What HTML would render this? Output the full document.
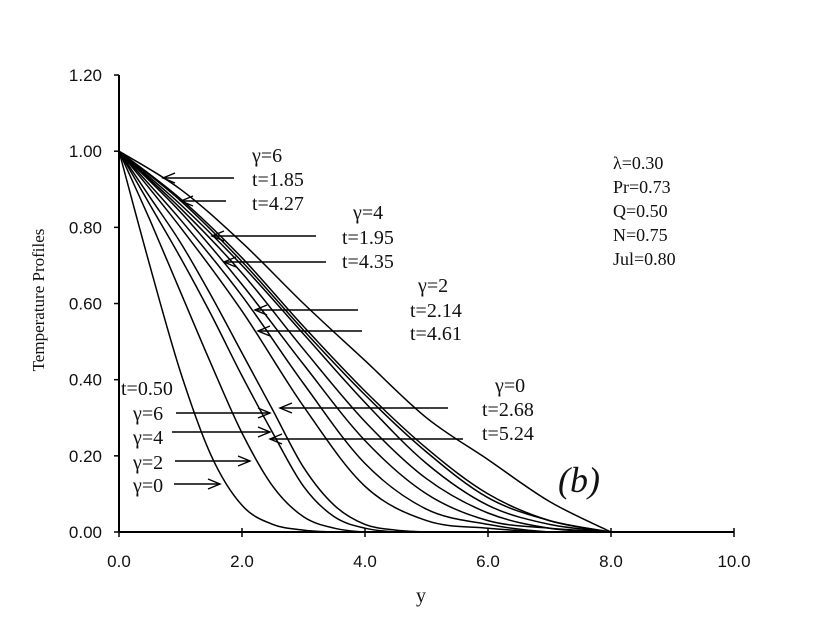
<!DOCTYPE html>
<html><head><meta charset="utf-8"><style>
html,body{margin:0;padding:0;background:#fff;}
svg{display:block;}
.tk{font-family:"Liberation Sans",sans-serif;font-size:17px;fill:#111;}
.lb{font-family:"Liberation Serif","DejaVu Serif",serif;font-size:20px;fill:#111;}
</style></head><body>
<svg id="chart" width="820" height="638" viewBox="0 0 820 638">
<g id="axes"></g>
<g id="curves"></g>
<g id="arrows"></g>
<text class="lb" x="421" y="602" text-anchor="middle">y</text>
<text class="lb" x="44" y="300" text-anchor="middle" transform="rotate(-90 44 300)" style="font-size:17px">Temperature Profiles</text>
<g>
<text class="lb" x="613" y="169" style="font-size:18px">λ=0.30</text>
<text class="lb" x="613" y="193" style="font-size:18px">Pr=0.73</text>
<text class="lb" x="613" y="217" style="font-size:18px">Q=0.50</text>
<text class="lb" x="613" y="241" style="font-size:18px">N=0.75</text>
<text class="lb" x="613" y="265" style="font-size:18px">Jul=0.80</text>
</g>
<text class="lb" x="558" y="492" style="font-size:36px;font-style:italic">(b)</text>
<g>
<text class="lb" x="252" y="162">γ=6</text>
<text class="lb" x="252" y="186">t=1.85</text>
<text class="lb" x="252" y="210">t=4.27</text>
<text class="lb" x="353" y="219">γ=4</text>
<text class="lb" x="342" y="244">t=1.95</text>
<text class="lb" x="342" y="268">t=4.35</text>
<text class="lb" x="418" y="292">γ=2</text>
<text class="lb" x="410" y="317">t=2.14</text>
<text class="lb" x="410" y="340">t=4.61</text>
<text class="lb" x="495" y="392">γ=0</text>
<text class="lb" x="482" y="416">t=2.68</text>
<text class="lb" x="482" y="440">t=5.24</text>
<text class="lb" x="121" y="395">t=0.50</text>
<text class="lb" x="133" y="420">γ=6</text>
<text class="lb" x="133" y="444">γ=4</text>
<text class="lb" x="133" y="469">γ=2</text>
<text class="lb" x="133" y="492">γ=0</text>
</g>
</svg>
<script>
const xTicks=[0,2,4,6,8,10];
const xTickLabels=["0.0","2.0","4.0","6.0","8.0","10.0"];
const yTicks=[0,0.2,0.4,0.6,0.8,1.0,1.2];
const yTickLabels=["0.00","0.20","0.40","0.60","0.80","1.00","1.20"];
const shortY=[0,0.5,1,1.5,2,2.5,3,3.5,4,4.5,5];
const longY=[0,1,2,3,4,5,6,7,8];
const t050g0=[1,0.70,0.42,0.20,0.07,0.02,0.005,0,0,0,0];
const t050g2=[1,0.82,0.63,0.44,0.26,0.12,0.04,0.01,0,0,0];
const t050g4=[1,0.86,0.72,0.57,0.41,0.26,0.12,0.04,0.01,0,0];
const t050g6=[1,0.88,0.76,0.62,0.47,0.32,0.17,0.07,0.02,0.005,0];
const g6t185=[1,0.80,0.58,0.33,0.12,0.03,0.01,0,0];
const g6t427=[1,0.82,0.62,0.39,0.18,0.06,0.02,0,0];
const g4t195=[1,0.84,0.65,0.44,0.24,0.10,0.03,0.01,0];
const g4t435=[1,0.85,0.68,0.48,0.29,0.14,0.05,0.01,0];
const g2t214=[1,0.86,0.70,0.52,0.34,0.18,0.07,0.02,0];
const g2t461=[1,0.87,0.71,0.53,0.36,0.21,0.09,0.03,0];
const g0t268=[1,0.875,0.72,0.54,0.37,0.22,0.10,0.03,0];
const g0t524=[1,0.90,0.76,0.60,0.45,0.30,0.19,0.08,0];

const NS="http://www.w3.org/2000/svg";
const X0=119,XS=61.5,Y0=532,YS=380.8;
function sx(v){return X0+v*XS;}
function sy(v){return Y0-v*YS;}
function mk(tag,attrs,parent){const e=document.createElementNS(NS,tag);for(const k in attrs)e.setAttribute(k,attrs[k]);parent.appendChild(e);return e;}
const axes=document.getElementById('axes');
const ax1=mk('line',{x1:sx(0),y1:sy(0),x2:sx(10),y2:sy(0),stroke:'#000','stroke-width':2},axes);


const ax2=mk('line',{x1:sx(0),y1:sy(0),x2:sx(0),y2:sy(1.2),stroke:'#000','stroke-width':2},axes);


xTicks.forEach((v,i)=>{
 mk('line',{x1:sx(v),y1:Y0-4,x2:sx(v),y2:Y0+5,stroke:'#000','stroke-width':1.5},axes);
 const t=mk('text',{x:sx(v),y:567,'text-anchor':'middle',class:'tk'},axes);t.textContent=xTickLabels[i];
 
 
});
yTicks.forEach((v,i)=>{
 mk('line',{x1:X0-5,y1:sy(v),x2:X0,y2:sy(v),stroke:'#000','stroke-width':1.5},axes);
 const t=mk('text',{x:102,y:sy(v)+6,'text-anchor':'end',class:'tk'},axes);t.textContent=yTickLabels[i];
 
 
});
function pathFor(xs,vs){
 const p=xs.map((x,i)=>[sx(x),sy(vs[i])]);
 let d='M'+p[0][0]+','+p[0][1];
 for(let i=0;i<p.length-1;i++){
  const a=p[Math.max(0,i-1)],b=p[i],c=p[i+1],e=p[Math.min(p.length-1,i+2)];
  const c1=[b[0]+(c[0]-a[0])/6,Math.min(Y0,b[1]+(c[1]-a[1])/6)];
  const c2=[c[0]-(e[0]-b[0])/6,Math.min(Y0,c[1]-(e[1]-b[1])/6)];
  d+=' C'+c1[0].toFixed(1)+','+c1[1].toFixed(1)+' '+c2[0].toFixed(1)+','+c2[1].toFixed(1)+' '+c[0].toFixed(1)+','+c[1].toFixed(1);
 }
 return d;
}
const cg=document.getElementById('curves');
const series=[[shortY,t050g0,'curve-t050-g0'],[shortY,t050g2,'curve-t050-g2'],[shortY,t050g4,'curve-t050-g4'],[shortY,t050g6,'curve-t050-g6'],
[longY,g6t185,'curve-g6-t185'],[longY,g6t427,'curve-g6-t427'],[longY,g4t195,'curve-g4-t195'],[longY,g4t435,'curve-g4-t435'],
[longY,g2t214,'curve-g2-t214'],[longY,g2t461,'curve-g2-t461'],[longY,g0t268,'curve-g0-t268'],[longY,g0t524,'curve-g0-t524']];
series.forEach(s=>{
 const p=mk('path',{d:pathFor(s[0],s[1]),fill:'none',stroke:'#000','stroke-width':1.5},cg);
 
 
});
const ag=document.getElementById('arrows');
const arrows=[[234,178,163,178],[226,201,181,201],[316,236,212,236],[326,262,224,262],[358,310,255,310],[362,331,258,331],[448,408,280,408],[463,439,270,439],
[176,413,270,413],[172,432,270,432],[175,461,250,461],[174,484,220,484]];
arrows.forEach(a=>{
 const g=mk('g',{},ag);
 
 
 mk('line',{x1:a[0],y1:a[1],x2:a[2],y2:a[3],stroke:'#000','stroke-width':1.4},g);
 const dir=a[2]<a[0]?1:-1;
 mk('polyline',{points:(a[2]+dir*12)+','+(a[3]-5)+' '+a[2]+','+a[3]+' '+(a[2]+dir*12)+','+(a[3]+5),fill:'none',stroke:'#000','stroke-width':1.4},g);
});
</script>
</body></html>
